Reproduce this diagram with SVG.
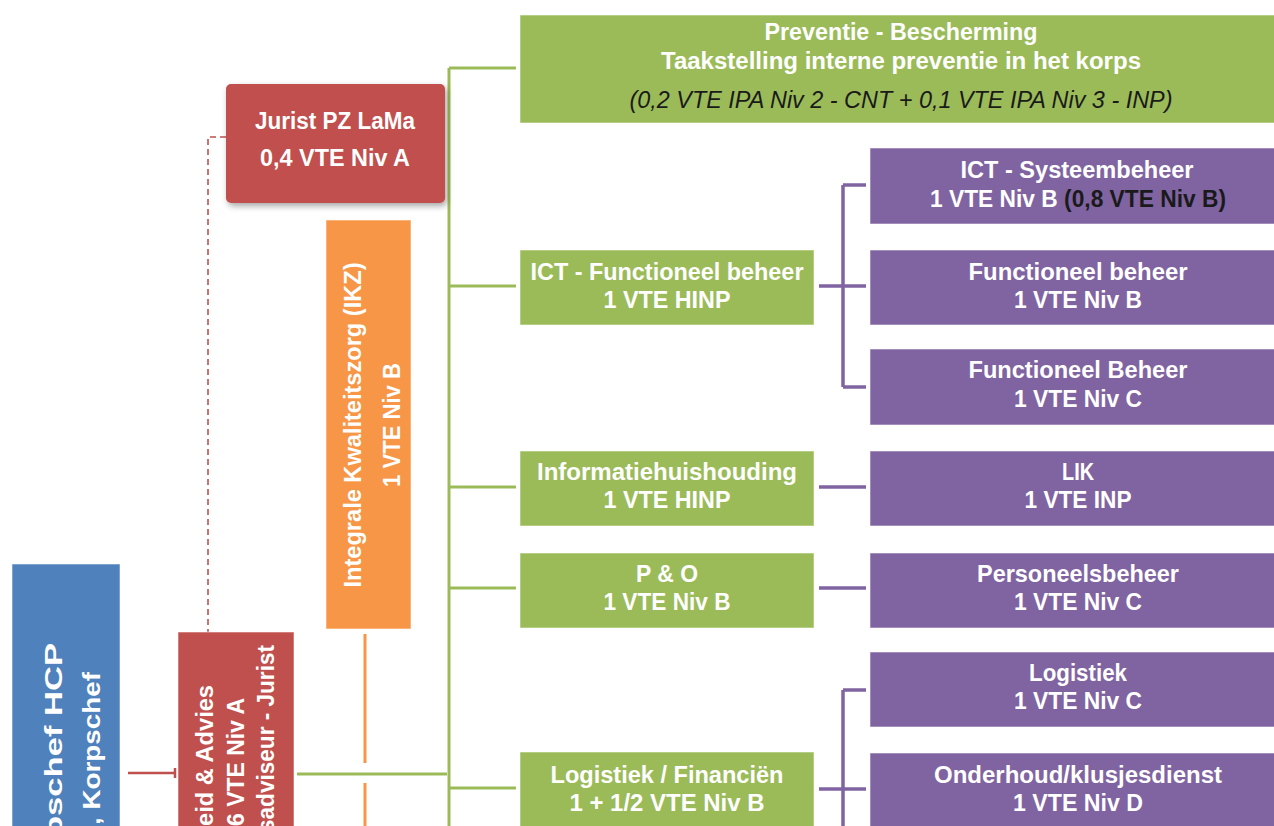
<svg xmlns="http://www.w3.org/2000/svg" width="1274" height="826" viewBox="0 0 1274 826">
<defs>
<style>
.t{font-family:"Liberation Sans",Arial,sans-serif;font-weight:bold;fill:#fff;font-size:23px;text-anchor:middle}
.r{text-anchor:end}
.blk{fill:#1a1a1a}
.it{font-style:italic;font-weight:normal;fill:#1a1a1a}
.bx{stroke:#fff;stroke-opacity:0.55;stroke-width:1}
.g{fill:#9bbb59}
.p{fill:#8064a2}
.red{fill:#c0504d}
.gl{stroke:#9bbb59;stroke-width:3;fill:none}
.pl{stroke:#8064a2;stroke-width:3.5;fill:none}
.ol{stroke:#f79646;stroke-width:3;fill:none}
.rl{stroke:#c0504d;stroke-width:2.5;fill:none}
.rd{stroke:#c0504d;stroke-width:1.6;fill:none;stroke-dasharray:6 4}
</style>
<filter id="sh" x="-10%" y="-10%" width="130%" height="140%">
<feDropShadow dx="2" dy="3" stdDeviation="3" flood-color="#000" flood-opacity="0.35"/>
</filter>
</defs>
<rect width="1274" height="826" fill="#fff"/>

<g id="connectors">
<path class="gl" d="M449,68 V830 M449,68 H516 M449,286 H516 M449,487 H516 M449,588 H516 M449,788 H516"/>
<path class="gl" d="M297,774 H447"/>
<path class="ol" d="M365,634 V763 M365,783 V830"/>
<path class="rl" d="M128,773 H175 M175,768 V778"/>
<path class="rd" d="M226,137 H208 V632"/>
<path class="pl" d="M819,286 H843 M843,185 V387 M843,185 H866 M843,286 H866 M843,387 H866"/>
<path class="pl" d="M819,487 H866 M819,588 H866"/>
<path class="pl" d="M843,690 V830 M843,690 H866 M819,789 H866"/>
</g>

<g id="n-korpschef">
<rect class="bx" x="12" y="564" width="108" height="270" fill="#4f81bd"/>
<text class="t r" transform="translate(62,643) rotate(-90)" font-size="39" textLength="194" lengthAdjust="spacingAndGlyphs">pschef HCP</text>
<text class="t r" transform="translate(100,672) rotate(-90)" font-size="29" textLength="153" lengthAdjust="spacingAndGlyphs">, Korpschef</text>
</g>

<g id="n-beleid">
<rect class="bx red" x="178" y="632" width="116" height="200"/>
<text class="t r" transform="translate(213,685) rotate(-90)" textLength="141" lengthAdjust="spacingAndGlyphs">eid &amp; Advies</text>
<text class="t r" transform="translate(244,698) rotate(-90)" textLength="128" lengthAdjust="spacingAndGlyphs">6 VTE Niv A</text>
<text class="t r" transform="translate(274,645) rotate(-90)" textLength="187" lengthAdjust="spacingAndGlyphs">sadviseur - Jurist</text>
</g>

<g id="n-jurist">
<rect class="red" x="226" y="84" width="219" height="119" rx="5" filter="url(#sh)"/>
<text class="t" x="335" y="129" textLength="160" lengthAdjust="spacingAndGlyphs">Jurist PZ LaMa</text>
<text class="t" x="335" y="166" textLength="150" lengthAdjust="spacingAndGlyphs">0,4 VTE Niv A</text>
</g>

<g id="n-ikz">
<rect class="bx" x="326" y="220" width="85" height="409" fill="#f79646"/>
<text class="t" transform="translate(361,425) rotate(-90)" textLength="325" lengthAdjust="spacingAndGlyphs">Integrale Kwaliteitszorg (IKZ)</text>
<text class="t" transform="translate(400,425) rotate(-90)" textLength="124" lengthAdjust="spacingAndGlyphs">1 VTE Niv B</text>
</g>

<g id="n-preventie">
<rect class="bx g" x="520" y="15" width="760" height="108"/>
<text class="t" x="901" y="40" textLength="273" lengthAdjust="spacingAndGlyphs">Preventie - Bescherming</text>
<text class="t" x="901" y="69" textLength="480" lengthAdjust="spacingAndGlyphs">Taakstelling interne preventie in het korps</text>
<text class="t it" x="901" y="108" textLength="543" lengthAdjust="spacingAndGlyphs">(0,2 VTE IPA Niv 2 - CNT + 0,1 VTE IPA Niv 3 - INP)</text>
</g>

<g id="n-ict-fb">
<rect class="bx g" x="520" y="250" width="294" height="75"/>
<text class="t" x="667" y="280" textLength="273" lengthAdjust="spacingAndGlyphs">ICT - Functioneel beheer</text>
<text class="t" x="667" y="308" textLength="127" lengthAdjust="spacingAndGlyphs">1 VTE HINP</text>
</g>

<g id="n-info">
<rect class="bx g" x="520" y="451" width="294" height="75"/>
<text class="t" x="667" y="480" textLength="260" lengthAdjust="spacingAndGlyphs">Informatiehuishouding</text>
<text class="t" x="667" y="508" textLength="127" lengthAdjust="spacingAndGlyphs">1 VTE HINP</text>
</g>

<g id="n-po">
<rect class="bx g" x="520" y="553" width="294" height="75"/>
<text class="t" x="667" y="582" textLength="62" lengthAdjust="spacingAndGlyphs">P &amp; O</text>
<text class="t" x="667" y="610" textLength="127" lengthAdjust="spacingAndGlyphs">1 VTE Niv B</text>
</g>

<g id="n-logfin">
<rect class="bx g" x="520" y="752" width="294" height="80"/>
<text class="t" x="667" y="783" textLength="233" lengthAdjust="spacingAndGlyphs">Logistiek / Financiën</text>
<text class="t" x="667" y="811" textLength="195" lengthAdjust="spacingAndGlyphs">1 + 1/2 VTE Niv B</text>
</g>

<g id="n-systeem">
<rect class="bx p" x="870" y="148" width="410" height="76"/>
<text class="t" x="1077" y="178" textLength="233" lengthAdjust="spacingAndGlyphs">ICT - Systeembeheer</text>
<text class="t" x="1078" y="207" textLength="296" lengthAdjust="spacingAndGlyphs">1 VTE Niv B <tspan class="blk">(0,8 VTE Niv B)</tspan></text>
</g>

<g id="n-fb1">
<rect class="bx p" x="870" y="250" width="410" height="75"/>
<text class="t" x="1078" y="280" textLength="219" lengthAdjust="spacingAndGlyphs">Functioneel beheer</text>
<text class="t" x="1078" y="308" textLength="128" lengthAdjust="spacingAndGlyphs">1 VTE Niv B</text>
</g>

<g id="n-fb2">
<rect class="bx p" x="870" y="349" width="410" height="76"/>
<text class="t" x="1078" y="378" textLength="219" lengthAdjust="spacingAndGlyphs">Functioneel Beheer</text>
<text class="t" x="1078" y="407" textLength="128" lengthAdjust="spacingAndGlyphs">1 VTE Niv C</text>
</g>

<g id="n-lik">
<rect class="bx p" x="870" y="451" width="410" height="75"/>
<text class="t" x="1078" y="480" textLength="32" lengthAdjust="spacingAndGlyphs">LIK</text>
<text class="t" x="1078" y="508" textLength="107" lengthAdjust="spacingAndGlyphs">1 VTE INP</text>
</g>

<g id="n-personeel">
<rect class="bx p" x="870" y="553" width="410" height="75"/>
<text class="t" x="1078" y="582" textLength="202" lengthAdjust="spacingAndGlyphs">Personeelsbeheer</text>
<text class="t" x="1078" y="610" textLength="128" lengthAdjust="spacingAndGlyphs">1 VTE Niv C</text>
</g>

<g id="n-logistiek">
<rect class="bx p" x="870" y="652" width="410" height="75"/>
<text class="t" x="1078" y="681" textLength="98" lengthAdjust="spacingAndGlyphs">Logistiek</text>
<text class="t" x="1078" y="709" textLength="128" lengthAdjust="spacingAndGlyphs">1 VTE Niv C</text>
</g>

<g id="n-onderhoud">
<rect class="bx p" x="870" y="753" width="410" height="80"/>
<text class="t" x="1078" y="783" textLength="288" lengthAdjust="spacingAndGlyphs">Onderhoud/klusjesdienst</text>
<text class="t" x="1078" y="811" textLength="130" lengthAdjust="spacingAndGlyphs">1 VTE Niv D</text>
</g>
</svg>
